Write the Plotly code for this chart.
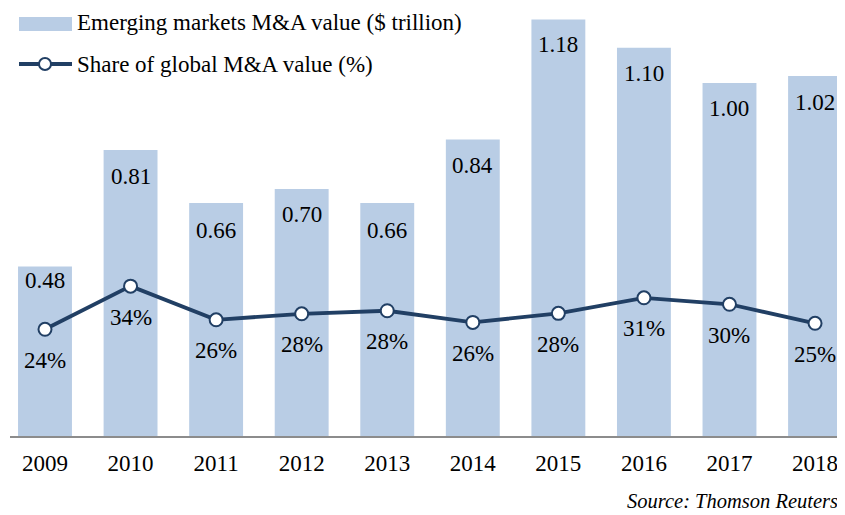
import plotly.graph_objects as go

# ---- data ----
years = ["2009", "2010", "2011", "2012", "2013", "2014", "2015", "2016", "2017", "2018"]
ma_value = [0.48, 0.81, 0.66, 0.70, 0.66, 0.84, 1.18, 1.10, 1.00, 1.02]          # $ trillion
global_share = [24.0, 34.0, 26.2, 27.6, 28.3, 25.6, 27.7, 31.3, 29.8, 25.4]     # %
bar_name = "Emerging markets M&A value ($ trillion)"
line_name = "Share of global M&A value (%)"
source_text = "Source: Thomson Reuters"

# ---- styles ----
FONT = "Liberation Serif, Times New Roman, serif"
BAR_COLOR = "#b9cde5"
LINE_COLOR = "#213f64"
OFF = 8  # page body margin
W, H = 845 - OFF, 515 - OFF
ML, MR, MT, MB = 10 - OFF, 0, 0, 79
bar_label_shift = [-14, -26, -27, -26, -27, -26, -25, -26, -25, -27]
pct_label_shift = -31

fig = go.Figure()
fig.add_trace(go.Bar(
    x=years, y=ma_value, name=bar_name, width=0.63,
    marker=dict(color=BAR_COLOR, line=dict(width=0)),
    yaxis="y", showlegend=False, hoverinfo="skip",
))
fig.add_trace(go.Scatter(
    x=years, y=global_share, name=line_name, mode="lines+markers",
    line=dict(color=LINE_COLOR, width=3.8),
    marker=dict(symbol="circle", size=13, color="white",
                line=dict(color=LINE_COLOR, width=2)),
    yaxis="y2", showlegend=False, hoverinfo="skip",
))

annotations = []
for i, v in enumerate(ma_value):
    annotations.append(dict(
        x=i, y=v, xref="x", yref="y", text=f"{v:.2f}", showarrow=False,
        yshift=bar_label_shift[i], font=dict(family=FONT, size=23, color="black"),
    ))
for i, s in enumerate(global_share):
    annotations.append(dict(
        x=i, y=s, xref="x", yref="y2", text=f"{round(s)}%", showarrow=False,
        yshift=pct_label_shift, font=dict(family=FONT, size=23, color="black"),
    ))

# manual legend (reference pixel -> paper helpers)
PW, PH = W - ML - MR, H - MT - MB
def px(xp):
    return (xp - OFF - ML) / PW
def py(yp):
    return 1 - (yp - OFF - MT) / PH

shapes = [
    dict(type="rect", xref="paper", yref="paper", x0=px(19), x1=px(72), y0=py(31), y1=py(17),
         fillcolor=BAR_COLOR, line=dict(width=0)),
    dict(type="line", xref="paper", yref="paper", x0=px(19), x1=px(72), y0=py(64), y1=py(64),
         line=dict(color=LINE_COLOR, width=3.8)),
    dict(type="circle", xref="paper", yref="paper", x0=px(39), x1=px(51), y0=py(70), y1=py(58),
         fillcolor="white", line=dict(color=LINE_COLOR, width=2)),
]
annotations.append(dict(x=px(75), y=py(23), xref="paper", yref="paper", xanchor="left",
                        yanchor="middle", text=bar_name, showarrow=False,
                        font=dict(family=FONT, size=23, color="black")))
annotations.append(dict(x=px(75), y=py(64), xref="paper", yref="paper", xanchor="left",
                        yanchor="middle", text=line_name, showarrow=False,
                        font=dict(family=FONT, size=23, color="black")))
annotations.append(dict(x=px(840), y=py(501), xref="paper", yref="paper", xanchor="right",
                        yanchor="middle", text=f"<i>{source_text}</i>", showarrow=False,
                        font=dict(family=FONT, size=20.5, color="black")))

fig.update_layout(
    width=W, height=H,
    margin=dict(l=ML, r=MR, t=MT, b=MB),
    paper_bgcolor="white", plot_bgcolor="white",
    xaxis=dict(type="category", range=[-0.409, 9.35], showline=True, linecolor="#8c8c8c",
               linewidth=2, ticks="", showgrid=False, zeroline=False,
               ticklabelstandoff=5,
               tickfont=dict(family=FONT, size=23, color="black")),
    yaxis=dict(range=[0, 1.2125], visible=False, showgrid=False, zeroline=False),
    yaxis2=dict(range=[-0.7, 98.4], overlaying="y", side="right", visible=False,
                showgrid=False, zeroline=False),
    annotations=annotations,
    shapes=shapes,
    showlegend=False,
)

fig.write_html("out.html")
